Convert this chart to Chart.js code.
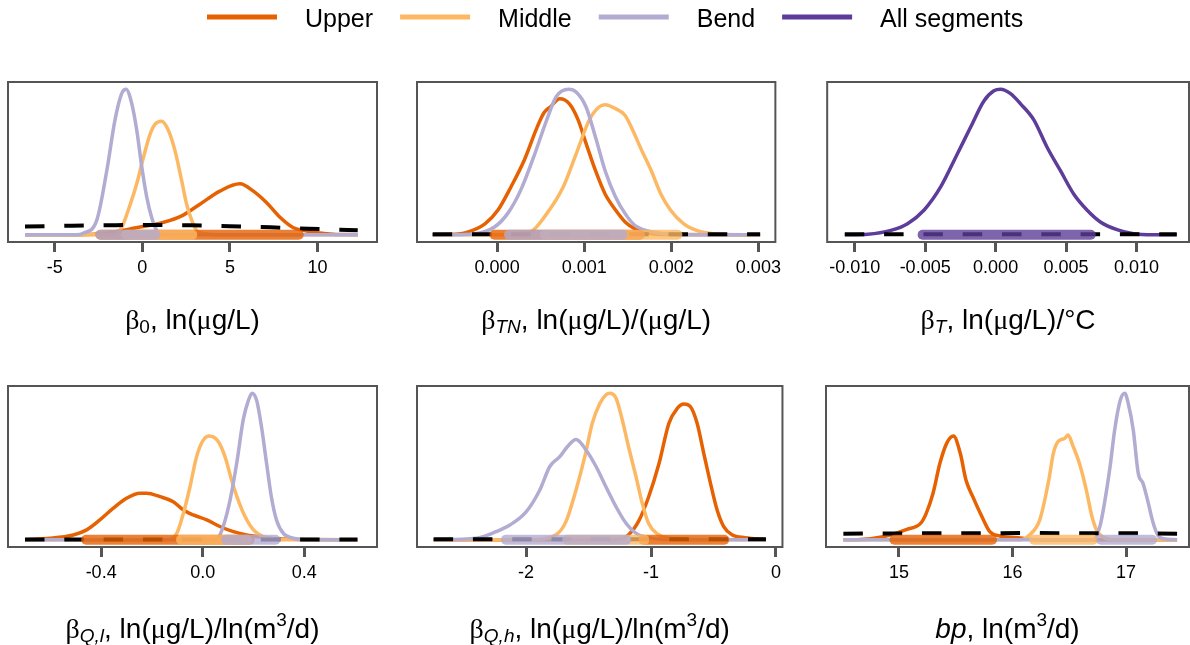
<!DOCTYPE html>
<html>
<head>
<meta charset="utf-8">
<script src="https://cdn.jsdelivr.net/npm/chart.js@4.4.1/dist/chart.umd.min.js"></script>
<style>
  body { margin: 0; background: #fff; width: 1190px; height: 645px; overflow: hidden; position: relative; }
  canvas { position: absolute; }
</style>
</head>
<body>
<canvas id="legend"></canvas>
<canvas id="p0"></canvas>
<canvas id="p1"></canvas>
<canvas id="p2"></canvas>
<canvas id="p3"></canvas>
<canvas id="p4"></canvas>
<canvas id="p5"></canvas>
<script>
// series names / colours
const seriesNames = ['Upper', 'Middle', 'Bend', 'All segments'];
const seriesColors = ['#e66101', '#fdb863', '#b2abd2', '#5e3c99'];

// beta_0 : [x, relative density]
const b0Upper = [[-6.7,0],[-3.5,0],[-2.03,0.01],[-0.7,0.04],[0.44,0.065],[1.2,0.085],[2.25,0.13],[3.29,0.21],[4.43,0.3],[5.57,0.35],[6.34,0.3],[7.1,0.22],[7.86,0.12],[8.6,0.05],[9.19,0.03],[10.14,0.012],[10.9,0.004],[12.3,0]];
const b0Middle = [[-6.7,0],[-1.65,0],[-1.18,0.05],[-0.8,0.17],[-0.32,0.35],[0.06,0.53],[0.44,0.69],[0.73,0.76],[1.1,0.78],[1.48,0.72],[1.86,0.58],[2.25,0.37],[2.53,0.21],[2.82,0.1],[3.1,0.03],[3.67,0.005],[4.5,0],[12.3,0]];
const b0Bend = [[-6.7,0],[-3.8,0],[-3.37,0.01],[-2.6,0.1],[-2.03,0.44],[-1.56,0.79],[-1.18,0.97],[-0.93,1.0],[-0.6,0.9],[-0.32,0.72],[-0.03,0.465],[0.25,0.26],[0.53,0.12],[0.82,0.03],[1.2,0],[12.3,0]];
const b0Prior = [[-6.7,0.057],[-4,0.062],[-1.5,0.066],[0.6,0.067],[2.8,0.065],[5,0.059],[7.3,0.051],[9.5,0.041],[12.3,0.03]];
const b0Ci = { upper: [-2.39, 8.93], middle: [-0.92, 2.85], bend: [-2.39, 0.75] };

// beta_TN
const tnUpper = [[-0.00074,0],[-0.0005,0.003],[-0.00036,0.014],[-0.00014,0.075],[0.00001,0.17],[0.00016,0.33],[0.00031,0.51],[0.00046,0.74],[0.00054,0.84],[0.00061,0.878],[0.00072,0.935],[0.00083,0.9],[0.00093,0.79],[0.00102,0.63],[0.00113,0.44],[0.00124,0.28],[0.00136,0.17],[0.00147,0.088],[0.00158,0.042],[0.00173,0.012],[0.0019,0.002],[0.00302,0]];
const tnMiddle = [[-0.00074,0],[0.00012,0],[0.00038,0.019],[0.00057,0.145],[0.00076,0.33],[0.00091,0.56],[0.00106,0.79],[0.00117,0.878],[0.00124,0.894],[0.00136,0.867],[0.00147,0.82],[0.00154,0.74],[0.00166,0.58],[0.00177,0.44],[0.00188,0.28],[0.00199,0.17],[0.00214,0.076],[0.00229,0.03],[0.00248,0.007],[0.0027,0],[0.00302,0]];
const tnBend = [[-0.00074,0],[-0.00051,0],[-0.00025,0.007],[-0.00003,0.053],[0.00012,0.145],[0.00027,0.305],[0.00042,0.535],[0.00057,0.79],[0.00068,0.95],[0.00082,1.0],[0.00091,0.98],[0.00102,0.88],[0.00113,0.67],[0.00124,0.44],[0.00136,0.26],[0.00147,0.145],[0.00158,0.065],[0.00173,0.026],[0.00196,0.004],[0.0022,0],[0.00302,0]];
const tnPrior = [[-0.00074,0.003],[0.0011,0.003],[0.00302,0.003]];
const tnCi = { upper: [-0.00003, 0.00164], middle: [0.00055, 0.00207], bend: [0.000137, 0.00144] };

// beta_T (all segments)
const tAll = [[-0.0107,0],[-0.00907,0.004],[-0.00743,0.03],[-0.00625,0.076],[-0.00507,0.17],[-0.00389,0.33],[-0.00271,0.557],[-0.00177,0.74],[-0.00083,0.92],[-0.00012,0.99],[0.00035,1.0],[0.00106,0.97],[0.00177,0.9],[0.00271,0.79],[0.00366,0.6],[0.0046,0.44],[0.00554,0.28],[0.00648,0.17],[0.00743,0.088],[0.00861,0.035],[0.00978,0.007],[0.0112,0],[0.01285,0]];
const tPrior = [[-0.0107,0.003],[0.001,0.003],[0.01285,0.003]];
const tCi = { all: [-0.00518, 0.00675] };

// beta_Q,l
const qlUpper = [[-0.7,0],[-0.602,0.009],[-0.51,0.032],[-0.457,0.067],[-0.405,0.135],[-0.352,0.215],[-0.3,0.283],[-0.247,0.317],[-0.221,0.317],[-0.168,0.294],[-0.116,0.26],[-0.076,0.203],[-0.037,0.169],[0.016,0.135],[0.068,0.09],[0.121,0.055],[0.173,0.032],[0.239,0.016],[0.3,0.004],[0.61,0]];
const qlMiddle = [[-0.7,0],[-0.142,0],[-0.102,0.043],[-0.076,0.18],[-0.05,0.36],[-0.024,0.567],[0.0024,0.68],[0.026,0.708],[0.062,0.669],[0.088,0.567],[0.114,0.408],[0.14,0.27],[0.167,0.158],[0.2,0.067],[0.239,0.021],[0.291,0],[0.61,0]];
const qlBend = [[-0.7,0],[0.042,0],[0.06,0.01],[0.081,0.09],[0.108,0.27],[0.134,0.52],[0.16,0.82],[0.18,0.95],[0.195,1.0],[0.213,0.95],[0.232,0.77],[0.252,0.52],[0.271,0.29],[0.291,0.135],[0.318,0.043],[0.357,0.01],[0.4,0],[0.61,0]];
const qlPrior = [[-0.7,0.002],[0,0.002],[0.61,0.002]];
const qlCi = { upper: [-0.459, 0.185], middle: [-0.085, 0.175], bend: [0.093, 0.287] };

// beta_Q,h
const qhUpper = [[-2.74,0],[-1.28,0],[-1.18,0.034],[-1.1,0.125],[-1.02,0.29],[-0.936,0.52],[-0.857,0.795],[-0.79,0.897],[-0.737,0.927],[-0.684,0.908],[-0.631,0.795],[-0.578,0.59],[-0.524,0.385],[-0.471,0.203],[-0.418,0.09],[-0.352,0.034],[-0.245,0.014],[-0.08,0]];
const qhMiddle = [[-2.74,0],[-1.95,0],[-1.76,0.034],[-1.68,0.125],[-1.6,0.34],[-1.53,0.567],[-1.47,0.795],[-1.41,0.93],[-1.36,0.99],[-1.33,1.0],[-1.28,0.966],[-1.23,0.818],[-1.18,0.635],[-1.12,0.43],[-1.07,0.248],[-1.02,0.112],[-0.95,0.04],[-0.857,0.01],[-0.75,0],[-0.08,0]];
const qhBend = [[-2.74,0],[-2.4,0.01],[-2.24,0.055],[-2.13,0.1],[-2.0,0.19],[-1.89,0.34],[-1.81,0.5],[-1.73,0.567],[-1.67,0.635],[-1.6,0.685],[-1.52,0.613],[-1.44,0.5],[-1.36,0.36],[-1.28,0.225],[-1.2,0.112],[-1.12,0.043],[-1.02,0.014],[-0.9,0.002],[-0.08,0]];
const qhPrior = [[-2.74,0.003],[-1.4,0.003],[-0.08,0.003]];
const qhCi = { upper: [-1.06, -0.414], middle: [-1.671, -1.052], bend: [-2.162, -1.198] };

// breakpoint bp
const bpUpper = [[14.51,0],[14.63,0],[14.86,0.02],[15.07,0.071],[15.19,0.111],[15.24,0.18],[15.3,0.317],[15.36,0.52],[15.42,0.658],[15.48,0.708],[15.54,0.59],[15.59,0.408],[15.65,0.294],[15.73,0.158],[15.8,0.055],[15.89,0.025],[16.07,0.012],[16.2,0],[17.45,0]];
const bpMiddle = [[14.51,0],[16.07,0],[16.15,0.032],[16.24,0.135],[16.32,0.408],[16.36,0.59],[16.4,0.669],[16.46,0.692],[16.49,0.715],[16.53,0.646],[16.59,0.52],[16.65,0.34],[16.7,0.158],[16.74,0.067],[16.8,0.016],[16.9,0],[17.45,0]];
const bpBend = [[14.51,0],[16.71,0],[16.77,0.09],[16.81,0.248],[16.86,0.5],[16.9,0.75],[16.95,0.954],[16.99,1.0],[17.02,0.93],[17.064,0.75],[17.108,0.453],[17.15,0.385],[17.19,0.27],[17.24,0.112],[17.28,0.032],[17.33,0.006],[17.45,0]];
const bpPrior = [[14.51,0.041],[15.5,0.044],[16.2,0.045],[17,0.044],[17.45,0.041]];
const bpCi = { upper: [14.96, 15.82], middle: [16.19, 16.71], bend: [16.78, 17.23] };

// tick values and labels
const b0Ticks = [-5, 0, 5, 10];           const b0Labels = ['-5', '0', '5', '10'];
const tnTicks = [0, 0.001, 0.002, 0.003]; const tnLabels = ['0.000', '0.001', '0.002', '0.003'];
const tTicks = [-0.01, -0.005, 0, 0.005, 0.01]; const tLabels = ['-0.010', '-0.005', '0.000', '0.005', '0.010'];
const qlTicks = [-0.4, 0, 0.4];           const qlLabels = ['-0.4', '0.0', '0.4'];
const qhTicks = [-2, -1, 0];              const qhLabels = ['-2', '-1', '0'];
const bpTicks = [15, 16, 17];             const bpLabels = ['15', '16', '17'];

// axis titles as [text, style] runs
const titles = [
    [['β','g'],['0','s'],[', ln(','n'],['μ','g'],['g/L)','n']],
    [['β','g'],['TN','si'],[', ln(','n'],['μ','g'],['g/L)/(','n'],['μ','g'],['g/L)','n']],
    [['β','g'],['T','si'],[', ln(','n'],['μ','g'],['g/L)/°C','n']],
    [['β','g'],['Q,l','si'],[', ln(','n'],['μ','g'],['g/L)/ln(m','n'],['3','p'],['/d)','n']],
    [['β','g'],['Q,h','si'],[', ln(','n'],['μ','g'],['g/L)/ln(m','n'],['3','p'],['/d)','n']],
    [['bp','i'],[', ln(m','n'],['3','p'],['/d)','n']]
];

const runFonts = {
    n: '28px "Liberation Sans"', g: '28px "Liberation Serif"', i: 'italic 28px "Liberation Sans"',
    s: '19px "Liberation Sans"', si: 'italic 19px "Liberation Sans"', p: '19px "Liberation Sans"'
};
const runShift = { n: 0, g: 0, i: 0, s: 4, si: 4, p: -12 };

function curve(data, color, order) {
    return { data: data, borderColor: color, borderWidth: 3.5, pointRadius: 0, fill: false,
             tension: 0.4, cubicInterpolationMode: 'monotone', order: order };
}
function prior(data) {
    return { data: data, borderColor: '#000', borderWidth: 4, borderDash: [19.5, 19.8],
             pointRadius: 0, fill: false, order: 3 };
}
function band(ci, color, order) {
    return { data: [[ci[0], 0], [ci[1], 0]], borderColor: color + 'cc', borderWidth: 10,
             borderCapStyle: 'round', pointRadius: 0, fill: false, order: order };
}

const [cU, cM, cB, cA] = seriesColors;
const panels = [
    { min: -7.67, max: 13.4, ticks: b0Ticks, labels: b0Labels,
      sets: [curve(b0Upper, cU, 6), curve(b0Middle, cM, 5), curve(b0Bend, cB, 4), prior(b0Prior),
             band(b0Ci.upper, cU, 2), band(b0Ci.middle, cM, 1), band(b0Ci.bend, cB, 0)] },
    { min: -0.00092, max: 0.003195, ticks: tnTicks, labels: tnLabels,
      sets: [curve(tnUpper, cU, 6), curve(tnMiddle, cM, 5), curve(tnBend, cB, 4), prior(tnPrior),
             band(tnCi.upper, cU, 2), band(tnCi.middle, cM, 1), band(tnCi.bend, cB, 0)] },
    { min: -0.01195, max: 0.01372, ticks: tTicks, labels: tLabels,
      sets: [curve(tAll, cA, 4), prior(tPrior), band(tCi.all, cA, 0)] },
    { min: -0.767, max: 0.687, ticks: qlTicks, labels: qlLabels,
      sets: [curve(qlUpper, cU, 6), curve(qlMiddle, cM, 5), curve(qlBend, cB, 4), prior(qlPrior),
             band(qlCi.upper, cU, 2), band(qlCi.middle, cM, 1), band(qlCi.bend, cB, 0)] },
    { min: -2.873, max: 0.052, ticks: qhTicks, labels: qhLabels,
      sets: [curve(qhUpper, cU, 6), curve(qhMiddle, cM, 5), curve(qhBend, cB, 4), prior(qhPrior),
             band(qhCi.upper, cU, 2), band(qhCi.middle, cM, 1), band(qhCi.bend, cB, 0)] },
    { min: 14.357, max: 17.555, ticks: bpTicks, labels: bpLabels,
      sets: [curve(bpUpper, cU, 6), curve(bpMiddle, cM, 5), curve(bpBend, cB, 4), prior(bpPrior),
             band(bpCi.upper, cU, 2), band(bpCi.middle, cM, 1), band(bpCi.bend, cB, 0)] }
];

// grid geometry (plot boxes)
const cols = [{ left: 8, width: 369 }, { left: 417, width: 367 }, { left: 826, width: 363 }];
const rows = [{ top: 82, height: 160, canvasH: 260, titleDy: 86.6 },
              { top: 386, height: 161, canvasH: 261, titleDy: 91.4 }];

const boxPlugin = {
    id: 'box',
    afterDatasetsDraw(chart) {
        const a = chart.chartArea, ctx = chart.ctx;
        ctx.save();
        ctx.strokeStyle = '#555';
        ctx.lineWidth = 2;
        ctx.strokeRect(a.left, a.top, a.right - a.left, a.bottom - a.top);
        ctx.restore();
    }
};

const titlePlugin = {
    id: 'richTitle',
    afterDraw(chart, args, opts) {
        const ctx = chart.ctx, a = chart.chartArea;
        const runs = opts.runs;
        ctx.save();
        ctx.fillStyle = '#000';
        ctx.textBaseline = 'alphabetic';
        let total = 0;
        const widths = runs.map(r => { ctx.font = runFonts[r[1]]; const w = ctx.measureText(r[0]).width; total += w; return w; });
        let x = (a.left + a.right) / 2 - total / 2;
        const y = a.bottom + opts.dy;
        runs.forEach((r, i) => {
            ctx.font = runFonts[r[1]];
            ctx.fillText(r[0], x, y + runShift[r[1]]);
            x += widths[i];
        });
        ctx.restore();
    }
};

panels.forEach((p, i) => {
    const col = cols[i % 3], row = rows[Math.floor(i / 3)];
    const canvas = document.getElementById('p' + i);
    canvas.width = col.width + 4;
    canvas.height = row.canvasH;
    canvas.style.left = (col.left - 2) + 'px';
    canvas.style.top = (row.top - 2) + 'px';
    canvas.style.width = canvas.width + 'px';
    canvas.style.height = canvas.height + 'px';
    const axisH = row.canvasH - 2 - row.height;

    new Chart(canvas, {
        type: 'line',
        data: { datasets: p.sets },
        options: {
            responsive: false,
            animation: false,
            devicePixelRatio: 1,
            events: [],
            layout: { padding: { left: 2, right: 2, top: 2, bottom: 0 } },
            plugins: {
                legend: { display: false },
                tooltip: { enabled: false },
                richTitle: { runs: titles[i], dy: row.titleDy }
            },
            scales: {
                x: {
                    type: 'linear',
                    min: p.min,
                    max: p.max,
                    afterBuildTicks: s => { s.ticks = p.ticks.map(v => ({ value: v })); },
                    afterFit: s => { s.height = axisH; },
                    ticks: {
                        callback: (v, idx) => p.labels[idx],
                        font: { family: 'Liberation Sans', size: 18 },
                        color: '#000',
                        padding: 5,
                        maxRotation: 0,
                        autoSkip: false
                    },
                    grid: { display: true, drawOnChartArea: false, drawTicks: true,
                            tickLength: 10, tickWidth: 3, lineWidth: 3, tickColor: '#555', color: '#555' },
                    border: { display: false }
                },
                y: { display: false, min: -0.05, max: 1.05 }
            }
        },
        plugins: [boxPlugin, titlePlugin]
    });
});

// legend strip
const legendPlugin = {
    id: 'lineLegend',
    afterDraw(chart) {
        const ctx = chart.ctx;
        ctx.save();
        ctx.font = '25px "Liberation Sans"';
        ctx.textBaseline = 'alphabetic';
        let x = 207;
        chart.data.datasets.forEach(ds => {
            ctx.strokeStyle = ds.borderColor;
            ctx.lineWidth = 5;
            ctx.beginPath();
            ctx.moveTo(x, 17);
            ctx.lineTo(x + 70, 17);
            ctx.stroke();
            ctx.fillStyle = '#000';
            ctx.fillText(ds.label, x + 98, 26.7);
            x += 70 + 28 + ctx.measureText(ds.label).width + 27;
        });
        ctx.restore();
    }
};

const lg = document.getElementById('legend');
lg.width = 1190; lg.height = 42;
lg.style.left = '0px'; lg.style.top = '0px';
lg.style.width = '1190px'; lg.style.height = '42px';
new Chart(lg, {
    type: 'line',
    data: { datasets: seriesNames.map((n, k) => ({ label: n, data: [], borderColor: seriesColors[k] })) },
    options: {
        responsive: false, animation: false, devicePixelRatio: 1, events: [],
        plugins: { legend: { display: false }, tooltip: { enabled: false } },
        scales: { x: { display: false }, y: { display: false } }
    },
    plugins: [legendPlugin]
});
</script>
</body>
</html>
